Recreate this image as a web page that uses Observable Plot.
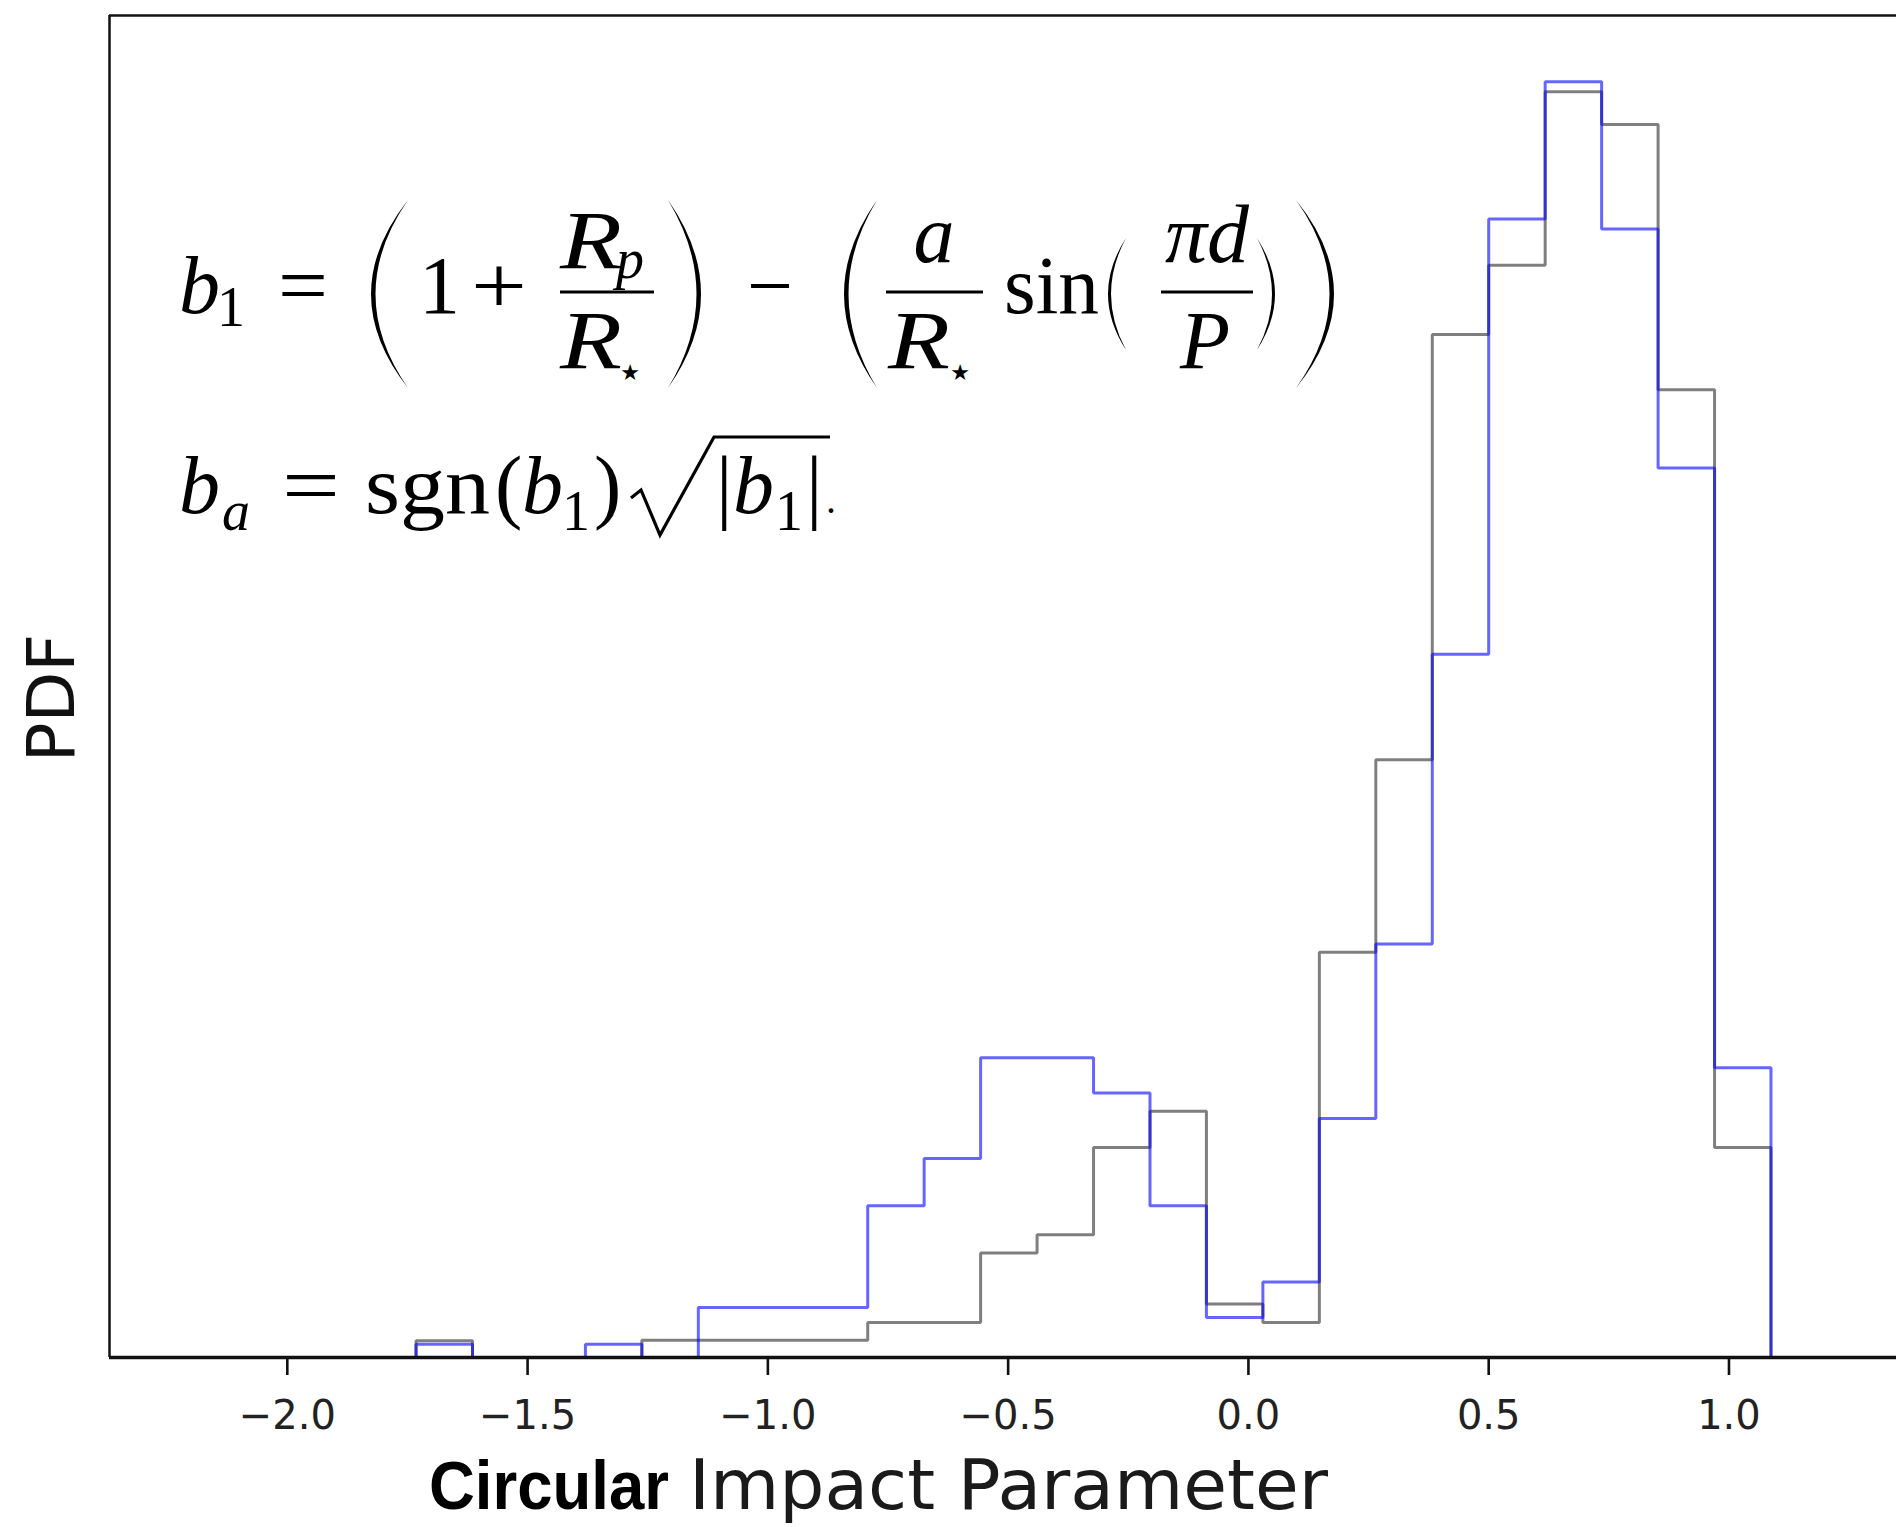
<!DOCTYPE html>
<html><head><meta charset="utf-8">
<script src="https://cdn.jsdelivr.net/npm/d3@7"></script>
<script src="https://cdn.jsdelivr.net/npm/@observablehq/plot@0.6"></script>
<style>html,body{margin:0;padding:0;background:#fff;overflow:hidden}</style>
</head><body><div id="chart"></div>
<script>
// Histogram bin edges (29 bins)
const binEdges = [-2.202, -2.0845, -1.967, -1.8496, -1.7321, -1.6146, -1.4971, -1.3796, -1.2622, -1.1447,
  -1.0272, -0.9097, -0.7922, -0.6748, -0.5573, -0.4398, -0.3223, -0.2048, -0.0874, 0.0301,
  0.1476, 0.2651, 0.3826, 0.5000, 0.6175, 0.7350, 0.8525, 0.9700, 1.0874, 1.2049];
// Blue histogram (PDF per bin)
const bluePDF = [0, 0, 0, 0, 0.0146, 0, 0, 0.0146, 0, 0.055, 0.055, 0.055, 0.167, 0.219, 0.330, 0.330,
  0.291, 0.167, 0.044, 0.083, 0.263, 0.455, 0.774, 1.253, 1.404, 1.242, 0.979, 0.319, 0];
// Grey histogram (PDF per bin)
const greyPDF = [0, 0, 0, 0, 0.0184, 0, 0, 0, 0.019, 0.019, 0.019, 0.019, 0.0385, 0.0385, 0.115, 0.135,
  0.231, 0.271, 0.059, 0.0385, 0.446, 0.658, 1.126, 1.202, 1.393, 1.357, 1.065, 0.231, 0];
const xTicks = [-2.0, -1.5, -1.0, -0.5, 0.0, 0.5, 1.0];
const xDomain = [-2.370, 1.3486];
const yDomain = [0, 1.477];

function stepPoints(values) {
  const n = values.length;
  const pts = [{x: binEdges[0], y: 0}];
  values.forEach((v, i) => pts.push({x: binEdges[i], y: v}));
  pts.push({x: binEdges[n], y: values[n - 1]});
  pts.push({x: binEdges[n], y: 0});
  return pts;
}

const chart = Plot.plot({
  width: 1896, height: 1527,
  marginLeft: 109, marginRight: 0, marginTop: 15, marginBottom: 170,
  style: {fontFamily: "DejaVu Sans", fontSize: "40px", background: "#fff", color: "#222"},
  x: {domain: xDomain},
  y: {domain: yDomain, axis: null},
  marks: [
    Plot.line(stepPoints(greyPDF), {x: "x", y: "y", curve: "step-after", stroke: "black", strokeOpacity: 0.5, strokeWidth: 3, strokeLinejoin: "miter"}),
    Plot.line(stepPoints(bluePDF), {x: "x", y: "y", curve: "step-after", stroke: "blue", strokeOpacity: 0.6, strokeWidth: 3, strokeLinejoin: "miter"}),
    Plot.ruleY([yDomain[1]], {stroke: "#111", strokeWidth: 2.5}),
    Plot.ruleX([xDomain[0]], {stroke: "#111", strokeWidth: 2.5}),
    Plot.ruleY([0], {stroke: "#111", strokeWidth: 3.5}),
    Plot.axisX({ticks: xTicks, tickSize: 18, tickPadding: 25, label: null, stroke: "#111", strokeWidth: 2.6, fill: "#222",
      tickFormat: d => d.toFixed(1).replace("-", "\u2212")})
  ]
});
document.getElementById("chart").appendChild(chart);

// Annotations: labels and equations
const svg = d3.select(chart);
const g = svg.append("g").attr("fill", "#000").attr("text-anchor", "start");
function txt(x, y, s, size, o = {}) {
  const t = g.append("text").attr("x", x).attr("y", y).attr("font-size", size)
    .attr("font-family", o.family || "Liberation Serif").attr("text-anchor", o.anchor || "start").text(s);
  if (o.italic) t.attr("font-style", "italic");
  if (o.bold) t.attr("font-weight", "bold");
  if (o.fill) t.attr("fill", o.fill);
  if (o.len) t.attr("textLength", o.len).attr("lengthAdjust", "spacingAndGlyphs");
  return t;
}
function paren(xt, xb, y1, y2, w) {
  const ym = (y1 + y2) / 2;
  const c1 = 2 * xb - xt, c2 = 2 * (xb + (xb < xt ? w : -w)) - xt;
  g.append("path").attr("d", `M${xt},${y1} Q${c1},${ym} ${xt},${y2} Q${c2},${ym} ${xt},${y1} Z`).attr("fill", "#000");
}
function bar(x1, x2, y) {
  g.append("line").attr("x1", x1).attr("x2", x2).attr("y1", y).attr("y2", y).attr("stroke", "#000").attr("stroke-width", 3);
}

// y label
g.append("text").attr("transform", "translate(74,698) rotate(-90)").attr("text-anchor", "middle")
  .attr("font-family", "DejaVu Sans").attr("font-size", 66).attr("fill", "#111").text("PDF");

// x label
txt(429, 1509, "Circular", 68, {family: "Liberation Sans", bold: true, len: 240});
txt(689, 1509, "Impact Parameter", 69, {family: "DejaVu Sans", fill: "#1a1a1a", len: 639});

// Equation line 1
const S = 82, s = 56;
txt(179, 313, "b", S, {italic: true});
txt(217, 326, "1", s);
txt(278, 313, "=", S, {len: 50});
paren(408, 371, 200, 388, 4.5);
txt(419, 313, "1", S);
txt(471, 313, "+", S, {len: 56});
txt(560, 268, "R", S, {italic: true, len: 62});
txt(616, 278, "p", s, {italic: true});
bar(560, 654, 292);
txt(560, 368, "R", S, {italic: true, len: 62});
txt(630, 380, "\u2605", 22, {family: "DejaVu Sans", anchor: "middle"});
paren(668, 701, 200, 388, 4.5);
txt(747, 313, "\u2212", S, {len: 46});
paren(877, 844, 200, 388, 4.5);
txt(934, 262, "a", S, {italic: true, anchor: "middle"});
bar(886, 983, 292);
txt(888, 368, "R", S, {italic: true, len: 62});
txt(960, 380, "\u2605", 22, {family: "DejaVu Sans", anchor: "middle"});
txt(1004, 313, "sin", S, {len: 95});
paren(1126, 1108, 238, 350, 3);
txt(1207, 262, "\u03C0d", S, {italic: true, anchor: "middle", len: 84});
bar(1161, 1253, 292);
txt(1205, 368, "P", S, {italic: true, anchor: "middle"});
paren(1257, 1275, 238, 350, 3);
paren(1296, 1334, 200, 388, 4.5);

// Equation line 2
txt(179, 513, "b", S, {italic: true});
txt(222, 530, "a", s, {italic: true});
txt(282, 513, "=", S, {len: 58});
txt(365, 513, "sgn", S, {len: 125});
txt(495, 513, "(", S);
txt(522, 513, "b", S, {italic: true});
txt(562, 530, "1", s);
txt(594, 513, ")", S);
g.append("path").attr("d", "M631,498 L641,490 L660,535 L714,437 L830,437").attr("fill", "none")
  .attr("stroke", "#000").attr("stroke-width", 3.2).attr("stroke-linejoin", "miter");
txt(716, 513, "|", S);
txt(733, 513, "b", S, {italic: true});
txt(775, 530, "1", s);
txt(806, 513, "|", S);
txt(826, 513, ".", 40);
</script>
</body></html>
